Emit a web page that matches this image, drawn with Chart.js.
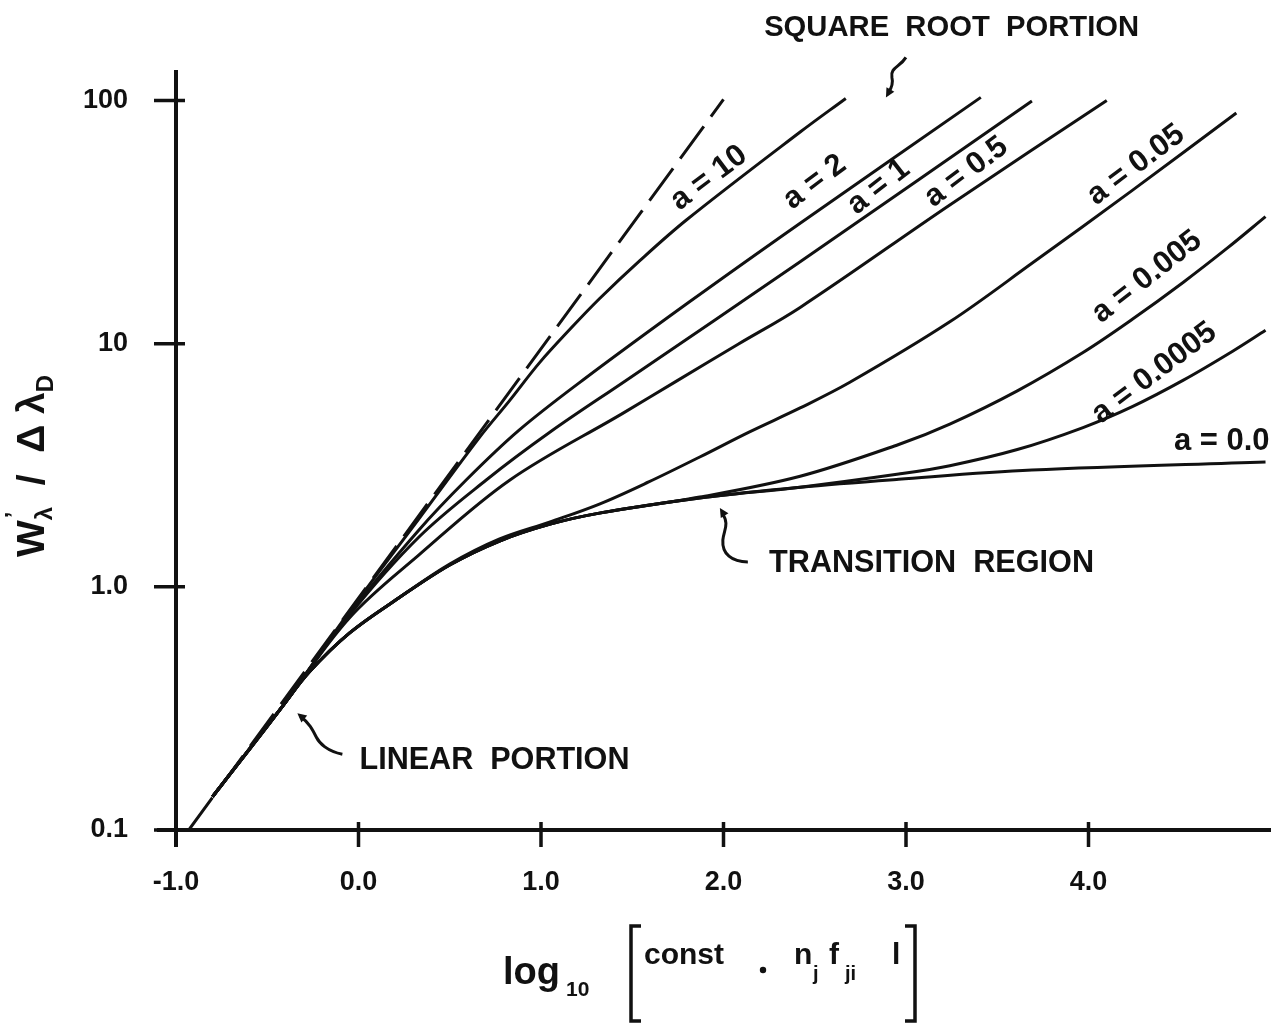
<!DOCTYPE html>
<html>
<head>
<meta charset="utf-8">
<title>Curves of growth</title>
<script src="https://cdn.jsdelivr.net/npm/chart.js@4.4.1/dist/chart.umd.min.js"></script>
<style>
  html, body { margin: 0; padding: 0; background: #fff; }
  canvas { display: block; }
</style>
</head>
<body>
<canvas id="cog" width="1271" height="1024"></canvas>
<script>
// Curves of growth: W'/dlambda_D against log10[const * n_j f_ji l], one curve per damping constant a

const xTicks = [-1, 0, 1, 2, 3, 4];
const xTickLabels = ['-1.0', '0.0', '1.0', '2.0', '3.0', '4.0'];
const yTicks = [0.1, 1, 10, 100];
const yTickLabels = ['0.1', '1.0', '10', '100'];

// dashed linear asymptote
const linearX = [-0.93, 2.0];
const linearY = [0.1, 101];

const a10X = [-0.80, -0.42, -0.05, 0.33, 0.66, 0.83, 0.99, 1.17, 1.32, 1.54, 1.80, 2.42, 2.67];
const a10Y = [0.137, 0.32, 0.79, 1.90, 4.09, 5.86, 8.32, 11.7, 15.3, 21.9, 32.4, 74.2, 102];

const a2X = [-0.80, -0.42, -0.05, 0.33, 0.59, 0.88, 1.23, 1.81, 2.42, 3.41];
const a2Y = [0.137, 0.32, 0.775, 1.71, 2.75, 4.41, 7.09, 14.8, 31.3, 103];

const a1X = [-0.80, -0.42, -0.05, 0.33, 0.70, 1.05, 1.47, 2.42, 3.69];
const a1Y = [0.137, 0.32, 0.765, 1.60, 2.75, 4.33, 7.09, 21.7, 99.5];

const a0p5X = [-0.80, -0.42, -0.05, 0.33, 0.83, 1.45, 1.74, 2.08, 2.42, 3.24, 4.10];
const a0p5Y = [0.137, 0.32, 0.745, 1.35, 2.75, 5.18, 7.00, 9.95, 14.1, 37.2, 100];

const a0p05X = [-0.80, -0.42, -0.27, -0.05, 0.22, 0.50, 0.77, 1.05, 1.32, 1.59, 1.87, 2.14, 2.42, 2.69, 3.24, 3.69, 4.24, 4.81];
const a0p05Y = [0.137, 0.32, 0.446, 0.645, 0.899, 1.24, 1.57, 1.85, 2.19, 2.70, 3.42, 4.33, 5.44, 6.92, 12.3, 21.4, 42.7, 88.8];

const a0p005X = [-0.80, -0.42, -0.27, -0.05, 0.22, 0.50, 0.77, 1.05, 1.32, 1.87, 2.42, 2.96, 3.24, 3.61, 3.97, 4.24, 4.52, 4.76, 4.97];
const a0p005Y = [0.137, 0.32, 0.446, 0.645, 0.899, 1.23, 1.54, 1.81, 2.01, 2.34, 2.85, 3.85, 4.67, 6.40, 9.20, 12.6, 17.9, 24.7, 33.3];

const a0p0005X = [-0.80, -0.42, -0.27, -0.05, 0.22, 0.50, 0.77, 1.05, 1.32, 1.87, 2.42, 2.96, 3.24, 3.61, 3.97, 4.24, 4.52, 4.79, 4.97];
const a0p0005Y = [0.137, 0.32, 0.446, 0.645, 0.899, 1.23, 1.54, 1.81, 2.01, 2.32, 2.57, 2.91, 3.15, 3.67, 4.52, 5.51, 7.08, 9.31, 11.35];

const a0X = [-0.80, -0.42, -0.27, -0.05, 0.22, 0.50, 0.77, 1.05, 1.32, 1.87, 2.42, 2.96, 3.69, 4.97];
const a0Y = [0.137, 0.32, 0.446, 0.645, 0.899, 1.23, 1.54, 1.81, 2.01, 2.32, 2.57, 2.77, 3.02, 3.26];

// curve labels, written along each curve
const curveLabels = ['a = 10', 'a = 2', 'a = 1', 'a = 0.5', 'a = 0.05', 'a = 0.005', 'a = 0.0005', 'a = 0.0'];
const curveLabelX = [1.92, 2.50, 2.85, 3.33, 4.26, 4.32, 4.36, 4.73];
const curveLabelY = [48.0, 46.2, 44.1, 50.8, 54.3, 18.8, 7.57, 3.98];
const curveLabelAngle = [-37, -37, -38, -37, -37, -38, -37, 0];

const FONT = '"Liberation Sans", Arial, sans-serif';
const INK = '#111';

function series(xs, ys) {
  return xs.map((x, i) => ({ x: x, y: ys[i] }));
}

function curve(xs, ys) {
  return {
    data: series(xs, ys),
    borderColor: INK,
    borderWidth: 3,
    pointRadius: 0,
    fill: false,
    tension: 0.35
  };
}

// text squeezed or stretched to a given width, centred on (cx, cy)
function drawFitted(ctx, text, cx, cy, size, width) {
  ctx.save();
  ctx.font = `bold ${size}px ${FONT}`;
  const w = ctx.measureText(text).width;
  ctx.translate(cx, cy);
  if (width) ctx.scale(width / w, 1);
  ctx.textAlign = 'center';
  ctx.textBaseline = 'middle';
  ctx.fillText(text, 0, 0);
  ctx.restore();
}

function arrowHead(ctx, tipX, tipY, fromX, fromY, len, half) {
  const ang = Math.atan2(tipY - fromY, tipX - fromX);
  ctx.beginPath();
  ctx.moveTo(tipX, tipY);
  ctx.lineTo(tipX - len * Math.cos(ang) + half * Math.sin(ang), tipY - len * Math.sin(ang) - half * Math.cos(ang));
  ctx.lineTo(tipX - len * Math.cos(ang) - half * Math.sin(ang), tipY - len * Math.sin(ang) + half * Math.cos(ang));
  ctx.closePath();
  ctx.fill();
}

// hooked pointer: tail at (hx + t[0], hy + t[1]), head at (hx, hy)
function hookArrow(ctx, hx, hy, path) {
  ctx.beginPath();
  ctx.moveTo(hx + path[0][0], hy + path[0][1]);
  for (let i = 1; i < path.length; i++) {
    const s = path[i];
    ctx.bezierCurveTo(hx + s[0], hy + s[1], hx + s[2], hy + s[3], hx + s[4], hy + s[5]);
  }
  ctx.stroke();
  const last = path[path.length - 1];
  arrowHead(ctx, hx, hy, hx + last[2], hy + last[3], 9, 4.5);
}

const decorPlugin = {
  id: 'decor',
  afterDatasetsDraw(chart) {
    const ctx = chart.ctx;
    const ca = chart.chartArea;
    const xs = chart.scales.x;
    const ys = chart.scales.y;
    const X = v => xs.getPixelForValue(v);
    const Y = v => ys.getPixelForValue(v);

    ctx.save();
    ctx.strokeStyle = INK;
    ctx.fillStyle = INK;
    ctx.lineCap = 'butt';

    // axes
    const x0 = X(-1);
    ctx.lineWidth = 4;
    ctx.beginPath();
    ctx.moveTo(x0, ca.top);
    ctx.lineTo(x0, ca.bottom + 17);
    ctx.moveTo(x0 - 19, ca.bottom);
    ctx.lineTo(ca.right, ca.bottom);
    ctx.stroke();

    // tick marks crossing the axes
    ctx.lineWidth = 3.5;
    ctx.beginPath();
    yTicks.forEach(v => {
      const py = Y(v);
      ctx.moveTo(x0 - 22, py);
      ctx.lineTo(x0 + 9, py);
    });
    xTicks.forEach(v => {
      const px = X(v);
      ctx.moveTo(px, ca.bottom - 8);
      ctx.lineTo(px, ca.bottom + 17);
    });
    ctx.stroke();

    // curve labels
    ctx.font = `bold 31px ${FONT}`;
    ctx.textAlign = 'center';
    ctx.textBaseline = 'middle';
    curveLabels.forEach((t, i) => {
      ctx.save();
      ctx.translate(X(curveLabelX[i]), Y(curveLabelY[i]));
      ctx.rotate(curveLabelAngle[i] * Math.PI / 180);
      ctx.fillText(t, 0, 0);
      ctx.restore();
    });

    // region annotations
    drawFitted(ctx, 'SQUARE  ROOT  PORTION', X(3.25), Y(200), 30, 375);
    drawFitted(ctx, 'TRANSITION  REGION', X(3.14), Y(1.25), 31, 325);
    drawFitted(ctx, 'LINEAR  PORTION', X(0.745), Y(0.194), 31, 270);

    ctx.lineWidth = 3;
    hookArrow(ctx, X(2.89), Y(103), [[20, -40], [14, -30, 4, -30, 6, -20], [8, -12, 4, -7, 2, -4]]);
    hookArrow(ctx, X(1.98), Y(2.11), [[28, 54], [12, 54, 2, 46, 3, 32], [4, 22, 10, 16, 2, 5]]);
    hookArrow(ctx, X(-0.335), Y(0.302), [[45, 41], [30, 38, 22, 30, 19, 24], [15, 16, 12, 10, 3, 3]]);

    // y axis title: W'_lambda / Delta lambda_D, reading upward
    ctx.save();
    ctx.translate(44, 466);
    ctx.rotate(-Math.PI / 2);
    ctx.textAlign = 'left';
    ctx.textBaseline = 'alphabetic';
    const big = `bold 39px ${FONT}`;
    const small = `bold 24px ${FONT}`;
    const parts = [
      { t: 'W', f: big, dy: 0, adv: true },
      { t: '\u2019', f: small, dy: -22, adv: false },
      { t: '\u03bb', f: small, dy: 8, adv: true },
      { t: '  /  ', f: big, dy: 0, adv: true },
      { t: '\u0394', f: big, dy: 0, adv: true },
      { t: ' \u03bb', f: big, dy: 0, adv: true },
      { t: 'D', f: small, dy: 9, adv: true }
    ];
    let total = 0;
    parts.forEach(p => { ctx.font = p.f; if (p.adv) total += ctx.measureText(p.t).width; });
    let cx = -total / 2;
    parts.forEach(p => {
      ctx.font = p.f;
      ctx.fillText(p.t, cx + (p.adv ? 0 : 2), p.dy);
      if (p.adv) cx += ctx.measureText(p.t).width;
    });
    ctx.restore();

    // x axis title: log10 [const . n_j f_ji l]
    ctx.textAlign = 'left';
    ctx.textBaseline = 'alphabetic';
    ctx.font = `bold 38px ${FONT}`;
    ctx.fillText('log', 503, 984);
    ctx.font = `bold 21px ${FONT}`;
    ctx.fillText('10', 566, 996);
    ctx.font = `bold 30px ${FONT}`;
    ctx.fillText('const', 644, 964);
    ctx.fillText('n', 794, 964);
    ctx.fillText('f', 829, 964);
    ctx.fillText('l', 892, 964);
    ctx.font = `bold 20px ${FONT}`;
    ctx.fillText('j', 813, 980);
    ctx.fillText('ji', 845, 980);
    ctx.beginPath();
    ctx.arc(763, 970, 3.2, 0, Math.PI * 2);
    ctx.fill();

    // square brackets
    ctx.lineWidth = 3.5;
    ctx.beginPath();
    ctx.moveTo(641, 926); ctx.lineTo(631, 926); ctx.lineTo(631, 1021); ctx.lineTo(641, 1021);
    ctx.moveTo(905, 926); ctx.lineTo(915, 926); ctx.lineTo(915, 1021); ctx.lineTo(905, 1021);
    ctx.stroke();

    ctx.restore();
  }
};

const linear = curve(linearX, linearY);
linear.borderDash = [40, 12];
linear.tension = 0;

new Chart(document.getElementById('cog'), {
  type: 'line',
  data: {
    datasets: [
      linear,
      curve(a10X, a10Y),
      curve(a2X, a2Y),
      curve(a1X, a1Y),
      curve(a0p5X, a0p5Y),
      curve(a0p05X, a0p05Y),
      curve(a0p005X, a0p005Y),
      curve(a0p0005X, a0p0005Y),
      curve(a0X, a0Y)
    ]
  },
  options: {
    responsive: false,
    animation: false,
    devicePixelRatio: 1,
    layout: { padding: { top: 70, right: 0, left: 0, bottom: 0 } },
    plugins: {
      legend: { display: false },
      tooltip: { enabled: false }
    },
    scales: {
      x: {
        type: 'linear',
        min: -1,
        max: 5,
        afterBuildTicks: s => { s.ticks = xTicks.map(v => ({ value: v })); },
        afterFit: s => { s.height = 194; },
        grid: { display: false, drawTicks: false },
        border: { display: false },
        ticks: {
          autoSkip: false,
          maxRotation: 0,
          padding: 36,
          color: INK,
          font: { family: FONT, size: 27, weight: 'bold' },
          callback: (v, i) => xTickLabels[i]
        }
      },
      y: {
        type: 'logarithmic',
        min: 0.1,
        max: 133.5,
        afterBuildTicks: s => { s.ticks = yTicks.map(v => ({ value: v })); },
        afterFit: s => { s.width = 176; },
        grid: { display: false, drawTicks: false },
        border: { display: false },
        ticks: {
          autoSkip: false,
          padding: 48,
          color: INK,
          font: { family: FONT, size: 27, weight: 'bold' },
          callback: (v, i) => yTickLabels[i]
        }
      }
    }
  },
  plugins: [decorPlugin]
});
</script>
</body>
</html>
